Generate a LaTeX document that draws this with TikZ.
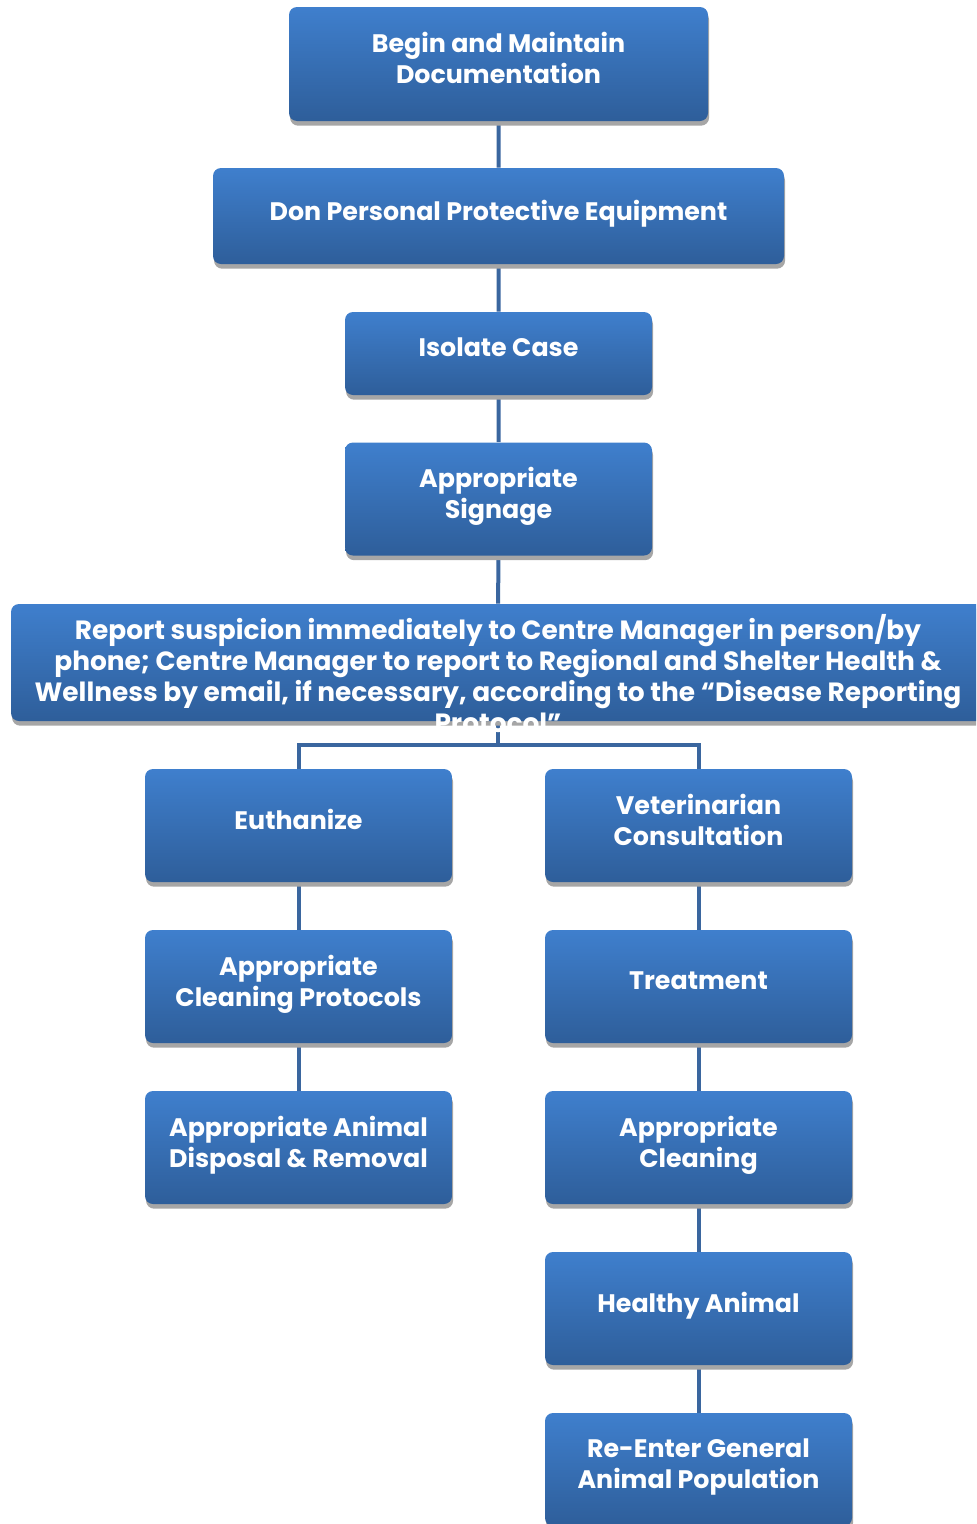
\documentclass[tikz,border=0pt]{standalone}
\usepackage{fontspec}
\setmainfont{Poppins}
\usetikzlibrary{shadows,backgrounds}
\definecolor{boxtop}{HTML}{3F7FCD}
\definecolor{boxbot}{HTML}{2E5E9A}
\definecolor{linkblue}{HTML}{3A669F}
\tikzset{
	steptext/.style={text=white, align=center, font=\bfseries\fontsize{19}{23.25}\selectfont},
	stepbox/.style={steptext, rounded corners=6pt, top color=boxtop, bottom color=boxbot, text depth=9pt,
		drop shadow={shadow xshift=0.8pt, shadow yshift=-3.5pt, fill=black!35, opacity=1}},
	smallbox/.style={stepbox, minimum width=230.25pt, minimum height=84.75pt},
	link/.style={draw=linkblue, line width=3pt}
}
\begin{document}
\begin{tikzpicture}[x=0.75pt, y=-0.75pt]
	\useasboundingbox (0,0) rectangle (976,1524);
	\clip (0,0) rectangle (976,1524);
	
	% main chain
	\node[stepbox, minimum width=314.25pt, minimum height=85.5pt] (begin) at (498.5,64) {Begin and Maintain\\Documentation};
	\node[stepbox, minimum width=428.25pt, minimum height=72pt] (ppe) at (498.5,216) {Don Personal Protective Equipment};
	\node[stepbox, minimum width=230.25pt, minimum height=62.25pt] (isolate) at (498.5,353.5) {Isolate Case};
	\node[smallbox] (signage) at (498.5,499) {Appropriate\\Signage};
	\node[stepbox, minimum width=730.5pt, minimum height=87.75pt] (report) at (498,662.5) {};
	\node[steptext, font=\bfseries\fontsize{19.8}{23.25}\selectfont] (reporttext) at (498,674) {Report suspicion immediately to Centre Manager in person/by\\phone; Centre Manager to report to Regional and Shelter Health \&\\Wellness by email, if necessary, according to the “Disease Reporting\\Protocol”};
	
	% left branch
	\node[smallbox] (euth) at (298.5,825.5) {Euthanize};
	\node[smallbox] (cleanprot) at (298.5,986.5) {Appropriate\\Cleaning Protocols};
	\node[smallbox] (disposal) at (298.5,1147.5) {Appropriate Animal\\Disposal \& Removal};
	
	% right branch
	\node[smallbox] (vet) at (698.5,825.5) {Veterinarian\\Consultation};
	\node[smallbox] (treat) at (698.5,986.5) {Treatment};
	\node[smallbox] (cleaning) at (698.5,1147.5) {Appropriate\\Cleaning};
	\node[smallbox] (healthy) at (698.5,1308.5) {Healthy Animal};
	\node[smallbox] (reenter) at (698.5,1469.5) {Re-Enter General\\Animal Population};
	
	\coordinate (split) at (498,745);
	\begin{pgfonlayer}{background}
		\draw[link] (begin) -- (ppe) -- (isolate) -- (signage) -- (report);
		\draw[link] (report) -- (split);
		\draw[link] (euth.north) |- (split) -| (vet.north);
		\draw[link] (euth) -- (cleanprot) -- (disposal);
		\draw[link] (vet) -- (treat) -- (cleaning) -- (healthy) -- (reenter);
	\end{pgfonlayer}
\end{tikzpicture}
\end{document}
